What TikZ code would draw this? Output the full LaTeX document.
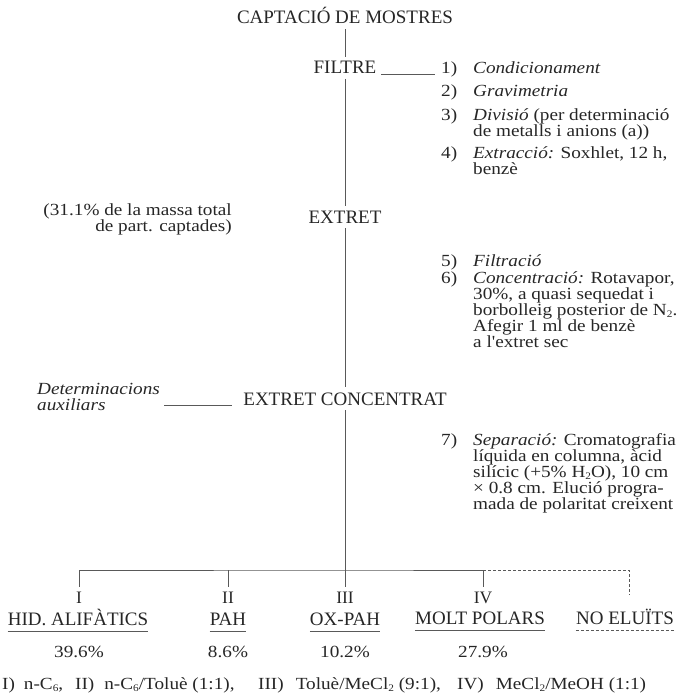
\documentclass[tikz,border=0pt]{standalone}
\usepackage{fontspec}
\setmainfont{Liberation Serif}
\newfontfamily\notefont{Liberation Serif}[FakeStretch=1.13]
\newcommand{\hdsize}{\fontsize{19}{22}\selectfont}
\newcommand{\rmsize}{\fontsize{17.5}{20}\selectfont}
\newcommand{\ntsize}{\notefont\fontsize{17}{16}\selectfont}
\newcommand{\lowidx}[1]{\raisebox{-0.12em}{\fontsize{10}{10}\selectfont #1}}
\usetikzlibrary{calc}

\begin{document}
\begin{tikzpicture}[x=1pt, y=-1pt,
  every node/.style={inner sep=0pt, text=black!85},
  head/.style={font=\hdsize, anchor=base, outer sep=5pt},
  roman/.style={font=\rmsize, anchor=base, outer sep=5pt},
  frac/.style={font=\hdsize, anchor=base},
  note/.style={font=\ntsize, anchor=base west, align=left},
  link/.style={line width=0.7pt, draw=black!65}]
  \useasboundingbox (0,0) rectangle (679,695);
  % main sequence down the centre
  \node[head] (capt) at (345,24) {CAPTACIÓ DE MOSTRES};
  \node[head] (filtre) at (345,74) {FILTRE};
  \node[head] (extret) at (345,223) {EXTRET};
  \node[head] (conc) at (345,405) {EXTRET CONCENTRAT};
  \draw[link] (capt) -- (filtre) -- (extret) -- (conc);
  % treatment steps on the right (multi-line nodes sit on their last line)
  \node[note] (k1) at (441,74) {1)};
  \node[note] (s1) at (473,74) {\textit{Condicionament}};
  \node[note] (k2) at (441,97) {2)};
  \node[note] (s2) at (473,97) {\textit{Gravimetria}};
  \node[note] (k3) at (441,121) {3)};
  \node[note] (s3) at (473,137) {\textit{Divisió} (per determinació\\de metalls i anions (a))};
  \node[note] (k4) at (441,159) {4)};
  \node[note] (s4) at (473,175) {\textit{Extracció:} Soxhlet, 12 h,\\benzè};
  \node[note] (k5) at (441,266) {5)};
  \node[note] (s5) at (473,266) {\textit{Filtració}};
  \node[note] (k6) at (441,283) {6)};
  \node[note] (s6) at (473,347) {\textit{Concentració:} Rotavapor,\\30\%, a quasi sequedat i\\borbolleig posterior de N\lowidx{2}.\\Afegir 1 ml de benzè\\a l'extret sec};
  \node[note] (k7) at (441,445) {7)};
  \node[note] (s7) at (473,509) {\textit{Separació:} Cromatografia\\líquida en columna, àcid\\silícic (+5\% H\lowidx{2}O), 10 cm\\× 0.8 cm. Elució progra-\\mada de polaritat creixent};
  \draw[link] (filtre.base east) -- ([xshift=-6pt]k1.base west);
  % side remarks on the left
  \node[note, anchor=base east, align=right] (mass) at (232,231) {(31.1\% de la massa total\\de part. captades)};
  \node[note, font={\notefont\fontsize{17}{15.5}\selectfont\itshape}] (aux) at (37,410) {Determinacions\\auxiliars};
  \draw[link] ([xshift=4pt]aux.east |- conc.base) -- ([xshift=-6pt]conc.base west);
  % fractions of the separation
  \coordinate (bar) at (345,570);
  \node[roman] (r1) at (79,603) {I};
  \node[roman] (r2) at (228,603) {II};
  \node[roman] (r3) at (345,603) {III};
  \node[roman] (r4) at (483,603) {IV};
  \coordinate (nend) at (629,595);
  \draw[link] (conc) -- (r3);
  \draw[link] (r1.north) |- (bar) -| (r4.north);
  \draw[link] (r2.north) -- (r2.north |- bar);
  \draw[link, dash pattern=on 3pt off 2pt] (r4.north |- bar) -| (nend);
  \node[frac] (n1) at (78,625) {HID. ALIFÀTICS};
  \node[frac] (n2) at (228,625) {PAH};
  \node[frac] (n3) at (345,625) {OX-PAH};
  \node[frac] (n4) at (480,624) {MOLT POLARS};
  \node[frac] (n5) at (625,624) {NO ELUÏTS};
  \foreach \n in {n1,n2,n3,n4}
    \draw[link] ([yshift=-6pt]\n.base west) -- ([yshift=-6pt]\n.base east);
  \draw[link, dash pattern=on 3pt off 2pt] ([yshift=-6pt]n5.base west) -- ([yshift=-6pt]n5.base east);
  \node[note, anchor=base] (p1) at (79,657) {39.6\%};
  \node[note, anchor=base] (p2) at (228,657) {8.6\%};
  \node[note, anchor=base] (p3) at (345,657) {10.2\%};
  \node[note, anchor=base] (p4) at (483,657) {27.9\%};
  % eluents
  \node[note] (e1) at (2,689) {I)\hspace{9pt}n-C\lowidx{6},};
  \node[note] (e2) at (75,689) {II)\hspace{10pt}n-C\lowidx{6}/Toluè (1:1),};
  \node[note] (e3) at (258,689) {III)\hspace{12pt}Toluè/MeCl\lowidx{2} (9:1),};
  \node[note] (e4) at (457,689) {IV)\hspace{12pt}MeCl\lowidx{2}/MeOH (1:1)};
\end{tikzpicture}
\end{document}
